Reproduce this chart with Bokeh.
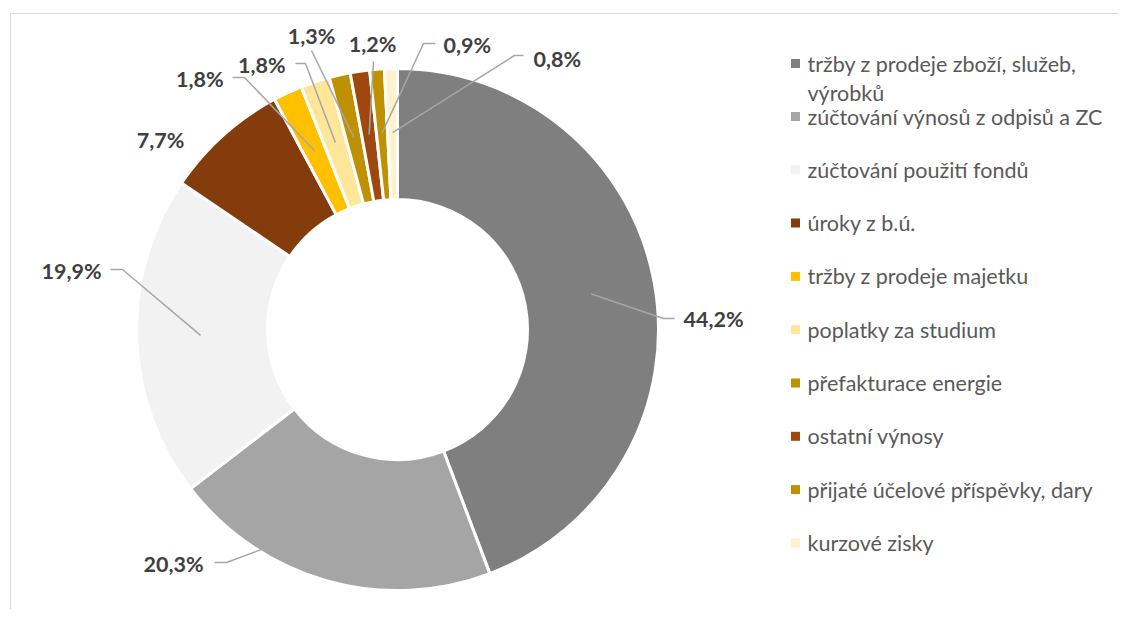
import math
import textwrap
from bokeh.plotting import figure
from bokeh.models import Range1d, ColumnDataSource
from bokeh.core.properties import value
from bokeh.embed import file_html
from bokeh.resources import INLINE

# ---- data ----
categories = [
    "tržby z prodeje zboží, služeb, výrobků",
    "zúčtování výnosů z odpisů a ZC",
    "zúčtování použití fondů",
    "úroky z b.ú.",
    "tržby z prodeje majetku",
    "poplatky za studium",
    "přefakturace energie",
    "ostatní výnosy",
    "přijaté účelové příspěvky, dary",
    "kurzové zisky",
]
shares = [44.2, 20.3, 19.9, 7.7, 1.8, 1.8, 1.3, 1.2, 0.9, 0.8]
colors = ["#7F7F7F", "#A5A5A5", "#F2F2F2", "#843C0C", "#FFC000",
          "#FFE699", "#BF9000", "#9E480E", "#BF9000", "#FFF2CC"]

# ---- layout (image pixel coordinates) ----
W, H = 1118, 609
CX, CY = 397, 329
R_OUT, R_IN = 261, 130
R_LEADER = 197
label_layout = [
    (683, 318, "left", [(663, 318), (674, 318)]),
    (203, 563, "right", [(226, 562), (214, 562)]),
    (101, 270, "right", [(122, 269), (110, 269)]),
    (160, 139, "center", None),
    (223, 78, "right", [(244, 77), (232, 77)]),
    (285, 64, "right", [(305, 63), (295, 63)]),
    (311, 35, "center", [(311, 50)]),
    (372, 43, "center", [(373, 61)]),
    (443, 44, "left", [(423, 43), (435, 43)]),
    (533, 58, "left", [(514, 55), (523, 55)]),
]

p = figure(width=W, height=H, x_range=Range1d(0, W), y_range=Range1d(-H, 0),
           output_backend="svg", toolbar_location=None, min_border=0,
           x_axis_location=None, y_axis_location=None)
p.grid.visible = False
p.outline_line_color = None

# frame
p.line([10, 10, 1130], [-640, -13, -13], line_color="#D9D9D9", line_width=1)

total = sum(shares)
starts, ends, mids = [], [], []
cum = 0.0
for v in shares:
    a0 = math.pi / 2 - 2 * math.pi * cum / total
    cum += v
    a1 = math.pi / 2 - 2 * math.pi * cum / total
    starts.append(a0)
    ends.append(a1)
    mids.append((a0 + a1) / 2)

src = ColumnDataSource(dict(start=starts, end=ends, color=colors, cat=categories))
p.annular_wedge(x=CX, y=-CY, inner_radius=R_IN, outer_radius=R_OUT,
                start_angle="start", end_angle="end", direction="clock",
                fill_color="color", line_color="white", line_width=3, source=src)

# data labels + leader lines
xs, ys = [], []
lx, ly, lt, la = [], [], [], []
for v, m, (tx, ty, al, path) in zip(shares, mids, label_layout):
    if path:
        px = [CX + R_LEADER * math.cos(m)] + [pt[0] for pt in path]
        py = [-(CY - R_LEADER * math.sin(m))] + [-pt[1] for pt in path]
        xs.append(px)
        ys.append(py)
    lx.append(tx)
    ly.append(-ty)
    lt.append(f"{v:.1f}".replace(".", ",") + "%")
    la.append(al)
p.multi_line(xs, ys, line_color="#A6A6A6", line_width=1.5)
p.text(x=lx, y=ly, text=lt, text_align=la, text_baseline="middle",
       text_font=value("Lato"), text_font_style="bold", text_font_size="21.5px",
       text_color="#404040")

# legend
LEG_MX, LEG_TX = 795, 807
row_y = [63] + [116 + (i - 1) * 53.3 for i in range(1, len(categories))]
p.scatter(x=[LEG_MX] * len(categories), y=[-y for y in row_y], marker="square",
          size=9, fill_color=colors, line_color=None)
tx, ty, tt = [], [], []
for cat, y in zip(categories, row_y):
    for j, line in enumerate(textwrap.wrap(cat, 31)):
        tx.append(LEG_TX)
        ty.append(-(y + j * 29))
        tt.append(line)
p.text(x=tx, y=ty, text=tt, text_align="left", text_baseline="middle",
       text_font=value("Lato"), text_font_size="21.5px", text_color="#595959")

open("out.html", "w").write(file_html(p, INLINE))
